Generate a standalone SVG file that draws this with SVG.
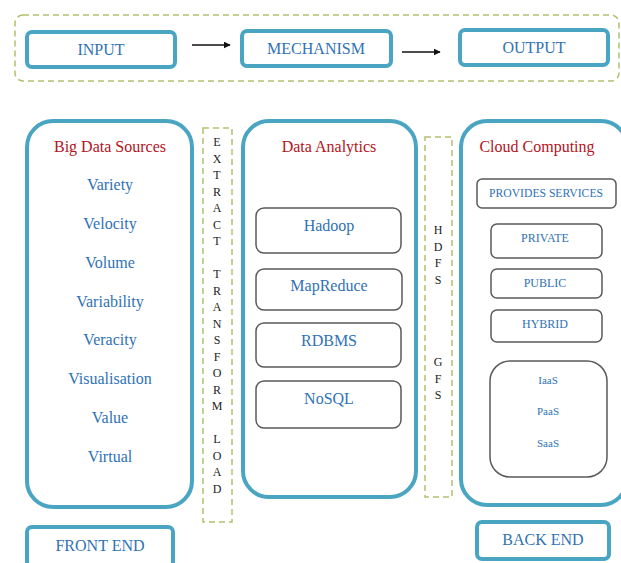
<svg xmlns="http://www.w3.org/2000/svg" width="621" height="563" viewBox="0 0 621 563">
  <defs>
    <marker id="arrow" viewBox="0 0 10 10" refX="9" refY="5" markerWidth="7" markerHeight="7" markerUnits="userSpaceOnUse" orient="auto">
      <path d="M0,0 L10,5 L0,10 z" fill="#111"/>
    </marker>
  </defs>
  <style>
    .frame { fill: #fff; stroke: #4aa5c2; stroke-width: 4; }
    .dash { fill: none; stroke: #b4bf6e; stroke-width: 1.5; stroke-dasharray: 6 4; }
    .inner { fill: #fff; stroke: #5a5a5a; stroke-width: 1.5; }
    text { font-family: 'Liberation Serif', 'DejaVu Serif', 'Times New Roman', serif; text-anchor: middle; dominant-baseline: central; }
    .lbl { fill: #2f72b4; }
    .title { fill: #b5121b; font-size: 16px; }
    .v16 { font-size: 16px; }
    .v12 { font-size: 12px; }
    .v11 { font-size: 11px; }
    .vert { fill: #222; font-size: 12px; }
  </style>
  <rect width="621" height="563" fill="#fff"/>

  <!-- top flow band -->
  <rect id="flow-band" class="dash" x="15" y="15" width="604" height="66" rx="8"/>
  <g id="input">
    <rect class="frame" x="27" y="32" width="148" height="35" rx="5"/>
    <text class="lbl v16" x="101" y="49">INPUT</text>
  </g>
  <g id="mechanism">
    <rect class="frame" x="242" y="31" width="149" height="35" rx="5"/>
    <text class="lbl v16" x="316" y="48">MECHANISM</text>
  </g>
  <g id="output">
    <rect class="frame" x="460" y="30" width="148" height="35" rx="5"/>
    <text class="lbl v16" x="534" y="47">OUTPUT</text>
  </g>

  <!-- Big data sources -->
  <g id="big-data-sources">
    <rect class="frame" x="27" y="121" width="165" height="386" rx="26"/>
    <text class="title" x="110" y="146">Big Data Sources</text>
    <text class="lbl v16" x="110" y="184">Variety</text>
    <text class="lbl v16" x="110" y="223">Velocity</text>
    <text class="lbl v16" x="110" y="262">Volume</text>
    <text class="lbl v16" x="110" y="301">Variability</text>
    <text class="lbl v16" x="110" y="339">Veracity</text>
    <text class="lbl v16" x="110" y="378">Visualisation</text>
    <text class="lbl v16" x="110" y="417">Value</text>
    <text class="lbl v16" x="110" y="456">Virtual</text>
  </g>

  <!-- ETL strip -->
  <g id="etl">
    <rect class="dash" x="203" y="128" width="29" height="394"/>
    <text class="vert" x="217" y="142">E</text>
    <text class="vert" x="217" y="158.5">X</text>
    <text class="vert" x="217" y="175">T</text>
    <text class="vert" x="217" y="191.5">R</text>
    <text class="vert" x="217" y="208">A</text>
    <text class="vert" x="217" y="224.5">C</text>
    <text class="vert" x="217" y="241">T</text>
    <text class="vert" x="217" y="274">T</text>
    <text class="vert" x="217" y="290.5">R</text>
    <text class="vert" x="217" y="307">A</text>
    <text class="vert" x="217" y="323.5">N</text>
    <text class="vert" x="217" y="340">S</text>
    <text class="vert" x="217" y="356.5">F</text>
    <text class="vert" x="217" y="373">O</text>
    <text class="vert" x="217" y="389.5">R</text>
    <text class="vert" x="217" y="406">M</text>
    <text class="vert" x="217" y="439">L</text>
    <text class="vert" x="217" y="455.5">O</text>
    <text class="vert" x="217" y="472">A</text>
    <text class="vert" x="217" y="488.5">D</text>
  </g>

  <!-- Data analytics -->
  <g id="data-analytics">
    <rect class="frame" x="243" y="121" width="173" height="376" rx="26"/>
    <text class="title" x="329" y="146">Data Analytics</text>
  </g>
  <g id="hadoop">
    <rect class="inner" x="256" y="208" width="145" height="45" rx="8"/>
    <text class="lbl v16" x="329" y="225">Hadoop</text>
  </g>
  <g id="mapreduce">
    <rect class="inner" x="256" y="269" width="146" height="41" rx="8"/>
    <text class="lbl v16" x="329" y="285">MapReduce</text>
  </g>
  <g id="rdbms">
    <rect class="inner" x="256" y="323" width="145" height="44" rx="8"/>
    <text class="lbl v16" x="329" y="340">RDBMS</text>
  </g>
  <g id="nosql">
    <rect class="inner" x="256" y="381" width="145" height="47" rx="8"/>
    <text class="lbl v16" x="329" y="398">NoSQL</text>
  </g>

  <!-- HDFS / GFS strip -->
  <g id="file-systems">
    <rect class="dash" x="425" y="137" width="27" height="360"/>
    <text class="vert" x="438" y="230">H</text>
    <text class="vert" x="438" y="246.5">D</text>
    <text class="vert" x="438" y="263">F</text>
    <text class="vert" x="438" y="279.5">S</text>
    <text class="vert" x="438" y="362">G</text>
    <text class="vert" x="438" y="378.5">F</text>
    <text class="vert" x="438" y="395">S</text>
  </g>

  <!-- Cloud computing -->
  <g id="cloud-computing">
    <rect class="frame" x="461" y="121" width="166" height="384" rx="26"/>
    <text class="title" x="537" y="146">Cloud Computing</text>
  </g>
  <g id="provides-services">
    <rect class="inner" x="477" y="179" width="139" height="29" rx="5"/>
    <text class="lbl v12" x="546" y="193" textLength="114" lengthAdjust="spacingAndGlyphs">PROVIDES SERVICES</text>
  </g>
  <g id="private">
    <rect class="inner" x="491" y="224" width="111" height="34" rx="6"/>
    <text class="lbl v12" x="545" y="238">PRIVATE</text>
  </g>
  <g id="public">
    <rect class="inner" x="491" y="269" width="111" height="29" rx="6"/>
    <text class="lbl v12" x="545" y="283">PUBLIC</text>
  </g>
  <g id="hybrid">
    <rect class="inner" x="491" y="310" width="111" height="32" rx="6"/>
    <text class="lbl v12" x="545" y="324">HYBRID</text>
  </g>
  <g id="service-models">
    <rect class="inner" x="490" y="361" width="117" height="116" rx="20"/>
    <text class="lbl v11" x="548" y="380">IaaS</text>
    <text class="lbl v11" x="548" y="411">PaaS</text>
    <text class="lbl v11" x="548" y="443">SaaS</text>
  </g>

  <!-- end labels -->
  <g id="front-end">
    <rect class="frame" x="27" y="527" width="146" height="40" rx="5"/>
    <text class="lbl v16" x="100" y="545">FRONT END</text>
  </g>
  <g id="back-end">
    <rect class="frame" x="477" y="522" width="132" height="37" rx="5"/>
    <text class="lbl v16" x="543" y="539">BACK END</text>
  </g>

  <!-- connectors -->
  <g id="connectors" stroke="#111" stroke-width="1.5" fill="none">
    <line x1="192" y1="45" x2="230" y2="45" marker-end="url(#arrow)"/>
    <line x1="402" y1="52" x2="440" y2="52" marker-end="url(#arrow)"/>
  </g>
</svg>
